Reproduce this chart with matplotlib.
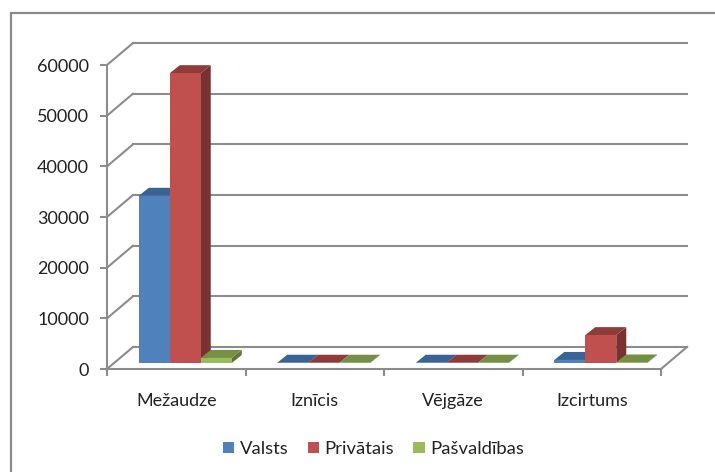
import matplotlib
matplotlib.use("Agg")
import matplotlib.pyplot as plt
from matplotlib.patches import Polygon, Rectangle
from matplotlib.transforms import Affine2D

categories = ["Mežaudze", "Iznīcis", "Vējgāze", "Izcirtums"]
series_names = ["Valsts", "Privātais", "Pašvaldības"]
valsts = [33000, 50, 50, 600]
privatais = [57200, 50, 50, 5500]
pasvaldibas = [1000, 50, 50, 100]
yticks = [0, 10000, 20000, 30000, 40000, 50000, 60000]

front = ["#4F81BD", "#C0504D", "#9BBB59"]
top = ["#3A6496", "#8F3B39", "#758F44"]
side = ["#2F4F78", "#7A3230", "#5F7536"]
GRID = "#8C8C8C"
TEXT = "#222222"
W, H = 715, 472

plt.rcParams["font.family"] = ["Lato", "DejaVu Sans"]
fig = plt.figure(figsize=(W / 100, H / 100), dpi=100)
fig.add_artist(Rectangle((10.5 / W, -0.02), 1.2, 1 - 13 / H + 0.02, transform=fig.transFigure,
                         fill=False, ec="#8A8A8A", lw=1.6))
ax = fig.add_axes([107 / W, 1 - 369 / H, (661 - 107) / W, (369 - 65) / H])
ax.set_xlim(0, 4)
ax.set_ylim(0, 60000)
ax.patch.set_visible(False)
for s in ["top", "right"]:
    ax.spines[s].set_visible(False)
for s in ["left", "bottom"]:
    ax.spines[s].set_color(GRID)
    ax.spines[s].set_linewidth(1.5)
ax.set_yticks(yticks)
ax.set_xticks([0, 1, 2, 3, 4])
ax.set_xticklabels([])
ax.set_xticks([0.5, 1.5, 2.5, 3.5], categories, minor=True)
ax.tick_params(axis="both", which="major", length=5, width=1.5, color=GRID,
               labelsize=13, labelcolor=TEXT, pad=8)
ax.tick_params(axis="x", which="minor", length=0, labelsize=13, labelcolor=TEXT, pad=17)

# 3D look: everything behind the front plane is the data position moved by a pixel offset
WALL_DX, WALL_DY = 26, 22
BAR_DX, BAR_DY = 10, 8
BAR_SHIFT = 9


def to_px(x, y):
    return ax.transData.transform((x, y))


wall = ax.transData + Affine2D().translate(WALL_DX, WALL_DY)
for v in yticks:
    ax.plot([0, 4], [v, v], transform=wall, color=GRID, lw=1.5, clip_on=False, zorder=1)
    x0, y0 = to_px(0, v)
    ax.plot([x0, x0 + WALL_DX], [y0, y0 + WALL_DY], transform=None, color=GRID, lw=1.5,
            clip_on=False, zorder=1)
x1, y1 = to_px(4, 0)
ax.plot([x1, x1 + WALL_DX], [y1, y1 + WALL_DY], transform=None, color=GRID, lw=1.5,
        clip_on=False, zorder=1)

bar_w = 31 / (554 / 4)
base = 6 * 60000 / 304
shift = BAR_SHIFT / (554 / 4)
series = [valsts, privatais, pasvaldibas]
for i in range(len(categories)):
    start = i + 0.5 - 1.5 * bar_w + shift
    for j, vals in enumerate(series):
        x = start + j * bar_w
        v = vals[i]
        z = 3 + i + j * 0.01
        xa, ya = to_px(x + bar_w, base)
        xb, yb = to_px(x + bar_w, base + v)
        xl, yl = to_px(x, base + v)
        ax.add_patch(Polygon([(xa, ya), (xb, yb), (xb + BAR_DX, yb + BAR_DY), (xa + BAR_DX, ya + BAR_DY)],
                             transform=None, fc=side[j], ec="none", zorder=z, clip_on=False))
        ax.add_patch(Polygon([(xl, yl), (xb, yb), (xb + BAR_DX, yb + BAR_DY), (xl + BAR_DX, yl + BAR_DY)],
                             transform=None, fc=top[j], ec="none", zorder=z, clip_on=False))
        ax.bar(x, v, bar_w, bottom=base, align="edge", color=front[j], zorder=z + 0.005,
               clip_on=False, lw=0)

handles = [Rectangle((0, 0), 1, 1, fc=c, ec="none") for c in front]
ax.legend(handles, series_names, loc="center", bbox_to_anchor=(373.5 / W, 1 - 449 / H),
          bbox_transform=fig.transFigure, ncol=3, frameon=False, fontsize=13.3,
          handlelength=0.6, handleheight=0.6, handletextpad=0.3, columnspacing=1.05,
          labelcolor=TEXT)
fig.savefig("out.png", dpi=100)
